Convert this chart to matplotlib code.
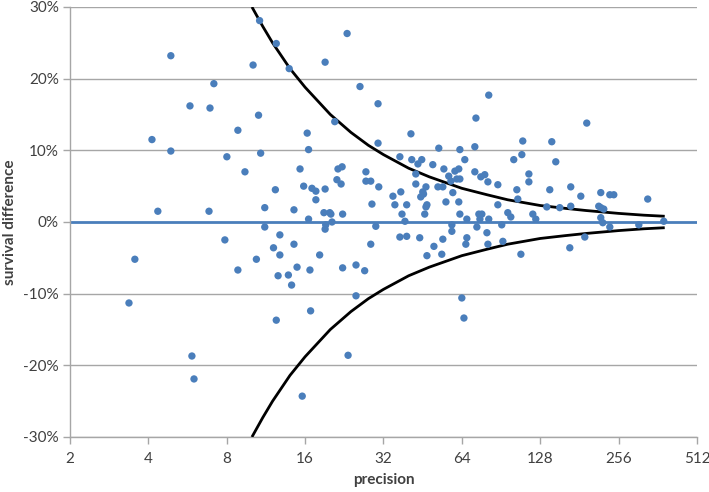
import matplotlib
matplotlib.use("Agg")
import matplotlib.pyplot as plt
from matplotlib.ticker import FixedLocator, FuncFormatter

plt.rcParams["font.family"] = ["Lato", "DejaVu Sans"]

BLUE = "#4A7EBB"; GRID = "#A6A6A6"; INK = "#404040"

# study points: precision, survival difference (%)
precision = [
    4.88, 7.14, 5.78, 6.90, 8.83, 4.13, 4.88, 8.01, 9.40, 4.35, 6.84, 7.87, 3.55, 8.83, 3.37, 5.88, 5.99,
    10.7, 12.4, 10.1, 13.9, 19.1, 20.8, 10.6, 16.3, 16.5, 10.8, 15.3, 12.3, 15.8, 17.0, 17.6, 19.1, 17.6,
    11.2, 14.5, 18.9, 19.9, 16.5, 20.3, 19.2, 19.1, 11.2, 12.8, 12.1, 14.5, 12.8, 18.2, 10.4, 14.9, 16.7,
    12.6, 13.8, 14.2, 16.8, 12.4, 15.6,
    23.2, 26.0, 30.5, 40.8, 30.5, 37.0, 41.1, 43.4, 21.4, 22.2, 21.2, 22.0, 27.4, 27.4, 28.6, 30.7, 42.6,
    42.6, 37.3, 34.8, 35.4, 39.3, 28.9, 20.1, 22.3, 37.7, 38.7, 29.9, 37.0, 39.3, 44.1, 28.6, 22.3, 25.1,
    27.1, 25.1, 23.4,
    81.2, 72.5, 52.2, 62.9, 71.8, 65.7, 44.9, 49.5, 54.6, 62.3, 60.2, 71.8, 57.0, 61.2, 62.9, 75.7, 78.4,
    80.6, 88.0, 58.1, 46.6, 51.8, 54.1, 45.3, 44.5, 45.6, 59.1, 47.0, 46.6, 55.6, 62.3, 46.1, 62.9, 74.4,
    76.4, 66.9, 75.1, 81.2, 58.6, 58.6, 73.1, 54.1, 66.9, 79.9, 50.0, 66.3, 80.6, 47.0, 53.6, 64.0, 65.2,
    91.1,
    109.7, 141.8, 108.8, 101.3, 146.9, 115.8, 115.8, 104.1, 139.3, 167.7, 105.0, 88.0, 135.7, 152.2,
    167.7, 96.1, 98.7, 119.9, 123.1, 92.0, 107.9, 166.3,
    193.2, 183.3, 218.7, 236.9, 245.4, 331.3, 214.8, 218.7, 224.6, 218.7, 222.6, 236.9, 306.2, 381.8, 189.9,
]
difference = [
    23.2, 19.3, 16.2, 15.9, 12.8, 11.5, 9.9, 9.1, 7.0, 1.5, 1.5, -2.5, -5.2, -6.7, -11.3, -18.7, -21.9,
    28.1, 24.9, 21.9, 21.4, 22.3, 14.0, 14.9, 12.4, 10.1, 9.6, 7.4, 4.5, 5.0, 4.7, 4.3, 4.6, 3.1,
    2.0, 1.7, 1.3, 1.3, 0.4, 0.0, -0.4, -1.0, -0.7, -1.8, -3.6, -3.1, -4.6, -4.6, -5.2, -6.3, -6.7,
    -7.5, -7.4, -8.8, -12.4, -13.7, -24.3,
    26.3, 18.9, 16.5, 12.3, 11.0, 9.1, 8.7, 8.1, 7.4, 7.7, 5.9, 5.3, 7.0, 5.7, 5.7, 4.9, 6.7,
    5.3, 4.2, 3.6, 2.4, 2.4, 2.5, 1.1, 1.1, 1.1, 0.1, -0.6, -2.1, -2.0, -2.2, -3.1, -6.4, -6.0,
    -6.8, -10.3, -18.6,
    17.7, 14.5, 10.3, 10.1, 10.5, 8.7, 8.7, 8.0, 7.4, 7.4, 7.1, 7.0, 6.4, 6.0, 6.0, 6.3, 6.6,
    5.6, 5.2, 5.7, 4.9, 4.9, 4.9, 4.2, 3.5, 3.9, 4.1, 2.4, 2.1, 2.8, 2.8, 1.1, 1.1, 1.1,
    1.1, 0.4, 0.4, 0.4, -0.4, -1.3, -0.7, -2.4, -2.2, -1.5, -3.4, -3.1, -3.1, -4.7, -4.5, -10.6, -13.4,
    -0.4,
    11.3, 11.2, 9.4, 8.7, 8.4, 6.7, 5.6, 4.5, 4.5, 4.9, 3.2, 2.4, 2.1, 2.0,
    2.2, 1.3, 0.7, 1.1, 0.4, -2.7, -4.5, -3.6,
    13.8, 3.6, 4.1, 3.8, 3.8, 3.2, 2.2, 2.0, 1.8, 0.6, -0.1, -0.7, -0.4, 0.1, -2.1,
]

# funnel limit (upper; lower is the mirror)
funnel_x = [10, 11, 12, 14, 16, 20, 24, 28, 32, 40, 48, 64, 80, 96, 128, 160, 192, 256, 320, 385]
funnel_y = [30, 27.3, 25, 21.4, 18.8, 15, 12.5, 10.7, 9.4, 7.5, 6.3, 4.7, 3.8, 3.1, 2.3, 1.9, 1.6, 1.2, 0.95, 0.8]

x_ticks = [2, 4, 8, 16, 32, 64, 128, 256, 512]
y_ticks = [-30, -20, -10, 0, 10, 20, 30]

fig = plt.figure(figsize=(7.09, 4.92), dpi=100)
ax = fig.add_axes([0.0987, 0.1118, 0.8843, 0.874])

ax.set_xscale("log", base=2)
ax.set_xlim(2, 512)
ax.set_ylim(-30, 30)

for v in y_ticks:
    if v != 0:
        ax.axhline(v, color=GRID, lw=1.0, zorder=1)
ax.axhline(0, color=BLUE, lw=2.0, zorder=2)

ax.plot(funnel_x, funnel_y, color="black", lw=2.0, zorder=3, solid_capstyle="butt")
ax.plot(funnel_x, [-v for v in funnel_y], color="black", lw=2.0, zorder=3, solid_capstyle="butt")

ax.scatter(precision, difference, s=28, color=BLUE, edgecolors="none", zorder=4, clip_on=False)

ax.xaxis.set_major_locator(FixedLocator(x_ticks))
ax.xaxis.set_minor_locator(FixedLocator([]))
ax.xaxis.set_major_formatter(FuncFormatter(lambda v, p: f"{v:g}"))
ax.yaxis.set_major_locator(FixedLocator(y_ticks))
ax.yaxis.set_major_formatter(FuncFormatter(lambda v, p: f"{v:.0f}%"))

for s in ["top", "right"]:
    ax.spines[s].set_visible(False)
for s in ["left", "bottom"]:
    ax.spines[s].set_color(GRID)
    ax.spines[s].set_linewidth(1.0)
ax.tick_params(axis="both", colors=GRID, length=5, width=1.0, labelcolor=INK, labelsize=11)
ax.tick_params(axis="x", pad=6)
ax.tick_params(axis="y", pad=3)

ax.set_xlabel("precision", fontsize=11, fontweight="bold", color=INK, va="center")
ax.set_ylabel("survival difference", fontsize=11, fontweight="bold", color=INK)
ax.xaxis.set_label_coords(0.5, -0.1)
ax.yaxis.set_label_coords(-0.085, 0.5)

fig.savefig("out.png", dpi=100, facecolor="white")
